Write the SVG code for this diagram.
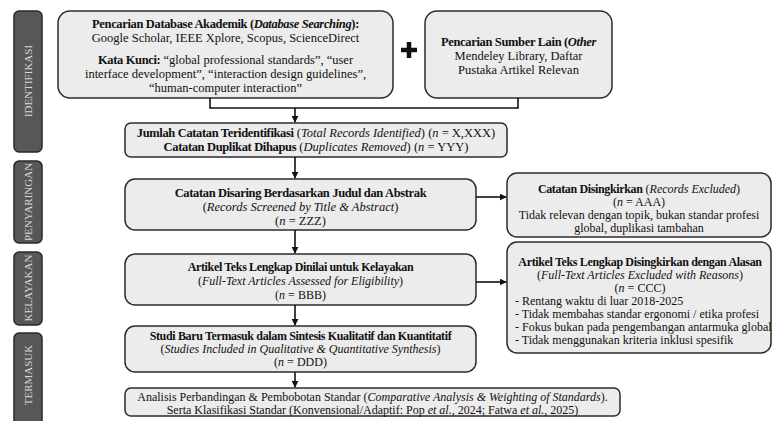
<svg xmlns="http://www.w3.org/2000/svg" width="775" height="421" viewBox="0 0 775 421">
<defs>
<marker id="ah" viewBox="0 0 10 10" refX="9" refY="5" markerWidth="7" markerHeight="7" markerUnits="userSpaceOnUse" orient="auto"><path d="M0,0 L10,5 L0,10 z" fill="#111"/></marker>
<style>
.side rect{fill:#575757;stroke:#2a2a2a;stroke-width:1.5}
.side text{fill:#d8d8d8;font-family:"Liberation Serif",serif;font-size:11px;text-anchor:middle;dominant-baseline:central}
.box rect{fill:#ececec;stroke:#2b2b2b;stroke-width:1.5}
.box text{fill:#111;font-family:"Liberation Serif",serif;font-size:12.5px;text-anchor:middle}
.box.sm text{font-size:12px}
.box .b{font-weight:bold;letter-spacing:-0.35px}
.box .i{font-style:italic}
.box text.l{text-anchor:start}
.conn{fill:none;stroke:#111;stroke-width:1.6}
</style>
</defs>
<rect width="775" height="421" fill="#fff"/>
<g id="side-identifikasi" class="side"><rect x="14" y="11" width="28" height="141" rx="5"/><text transform="translate(28,81) rotate(-90)">IDENTIFIKASI</text></g>
<g id="side-penyaringan" class="side"><rect x="14" y="161" width="28" height="82" rx="5"/><text transform="translate(28,202) rotate(-90)">PENYARINGAN</text></g>
<g id="side-kelayakan" class="side"><rect x="14" y="252" width="28" height="73" rx="5"/><text transform="translate(28,288) rotate(-90)">KELAYAKAN</text></g>
<g id="side-termasuk" class="side"><rect x="14" y="333" width="28" height="95" rx="5"/><text transform="translate(28,375) rotate(-90)">TERMASUK</text></g>

<g id="db-search" class="box"><rect x="58" y="11" width="335" height="87" rx="12"/>
<text x="225.5" y="28"><tspan class="b">Pencarian Database Akademik (</tspan><tspan class="b i">Database Searching</tspan><tspan class="b">):</tspan></text>
<text x="225.5" y="42">Google Scholar, IEEE Xplore, Scopus, ScienceDirect</text>
<text x="225.5" y="64"><tspan class="b">Kata Kunci:</tspan> “global professional standards”, “user</text>
<text x="225.5" y="78">interface development”, “interaction design guidelines”,</text>
<text x="225.5" y="92">“human-computer interaction”</text>
</g>
<g id="plus"><path d="M409,42 V58 M401,50 H417" stroke="#111" stroke-width="4.5"/></g>
<g id="other-search" class="box"><rect x="425" y="11" width="187" height="87" rx="12"/>
<text x="518.5" y="46"><tspan class="b">Pencarian Sumber Lain (</tspan><tspan class="b i">Other</tspan></text>
<text x="518.5" y="60">Mendeley Library, Daftar</text>
<text x="518.5" y="74">Pustaka Artikel Relevan</text>
</g>
<g id="identified" class="box"><rect x="125" y="123" width="382" height="34" rx="6"/>
<text x="316" y="137"><tspan class="b">Jumlah Catatan Teridentifikasi</tspan> (<tspan class="i">Total Records Identified</tspan>) (<tspan class="i">n</tspan> = X,XXX)</text>
<text x="316" y="151"><tspan class="b">Catatan Duplikat Dihapus</tspan> (<tspan class="i">Duplicates Removed</tspan>) (<tspan class="i">n</tspan> = YYY)</text>
</g>
<g id="screened" class="box"><rect x="125" y="179" width="351" height="51" rx="10"/>
<text x="300.5" y="197"><tspan class="b">Catatan Disaring Berdasarkan Judul dan Abstrak</tspan></text>
<text x="300.5" y="211">(<tspan class="i">Records Screened by Title &amp; Abstract</tspan>)</text>
<text x="300.5" y="225">(<tspan class="i">n</tspan> = ZZZ)</text>
</g>
<g id="excluded" class="box sm"><rect x="507" y="173" width="264" height="64" rx="10"/>
<text x="639" y="193"><tspan class="b">Catatan Disingkirkan</tspan> (<tspan class="i">Records Excluded</tspan>)</text>
<text x="639" y="206">(<tspan class="i">n</tspan> = AAA)</text>
<text x="639" y="219">Tidak relevan dengan topik, bukan standar profesi</text>
<text x="639" y="232">global, duplikasi tambahan</text>
</g>
<g id="assessed" class="box sm"><rect x="125" y="254" width="351" height="51" rx="10"/>
<text x="300.5" y="271"><tspan class="b">Artikel Teks Lengkap Dinilai untuk Kelayakan</tspan></text>
<text x="300.5" y="285">(<tspan class="i">Full-Text Articles Assessed for Eligibility</tspan>)</text>
<text x="300.5" y="299">(<tspan class="i">n</tspan> = BBB)</text>
</g>
<g id="fulltext-excluded" class="box sm"><rect x="507" y="242" width="264" height="111" rx="10"/>
<text x="640" y="266"><tspan class="b">Artikel Teks Lengkap Disingkirkan dengan Alasan</tspan></text>
<text x="640" y="279">(<tspan class="i">Full-Text Articles Excluded with Reasons</tspan>)</text>
<text x="640" y="292">(<tspan class="i">n</tspan> = CCC)</text>
<text x="515" y="305" class="l">- Rentang waktu di luar 2018-2025</text>
<text x="515" y="318" class="l">- Tidak membahas standar ergonomi / etika profesi</text>
<text x="515" y="331" class="l">- Fokus bukan pada pengembangan antarmuka global</text>
<text x="515" y="344" class="l">- Tidak menggunakan kriteria inklusi spesifik</text>
</g>
<g id="included" class="box sm"><rect x="125" y="326" width="351" height="46" rx="10"/>
<text x="300.5" y="340"><tspan class="b">Studi Baru Termasuk dalam Sintesis Kualitatif dan Kuantitatif</tspan></text>
<text x="300.5" y="353">(<tspan class="i">Studies Included in Qualitative &amp; Quantitative Synthesis</tspan>)</text>
<text x="300.5" y="366">(<tspan class="i">n</tspan> = DDD)</text>
</g>
<g id="analysis" class="box sm"><rect x="125" y="388" width="495" height="28" rx="6"/>
<text x="372.5" y="401">Analisis Perbandingan &amp; Pembobotan Standar (<tspan class="i">Comparative Analysis &amp; Weighting of Standards</tspan>).</text>
<text x="372.5" y="414">Serta Klasifikasi Standar (Konvensional/Adaptif: Pop <tspan class="i">et al.</tspan>, 2024; Fatwa <tspan class="i">et al.</tspan>, 2025)</text>
</g>

<g id="connectors" class="conn">
<path d="M210,98 V108 H518 V98"/>
<path d="M295,108 V122" marker-end="url(#ah)"/>
<path d="M295,157 V178" marker-end="url(#ah)"/>
<path d="M476,197 H506" marker-end="url(#ah)"/>
<path d="M295,230 V253" marker-end="url(#ah)"/>
<path d="M476,282 H506" marker-end="url(#ah)"/>
<path d="M295,305 V325" marker-end="url(#ah)"/>
<path d="M295,372 V387" marker-end="url(#ah)"/>
</g>
</svg>
